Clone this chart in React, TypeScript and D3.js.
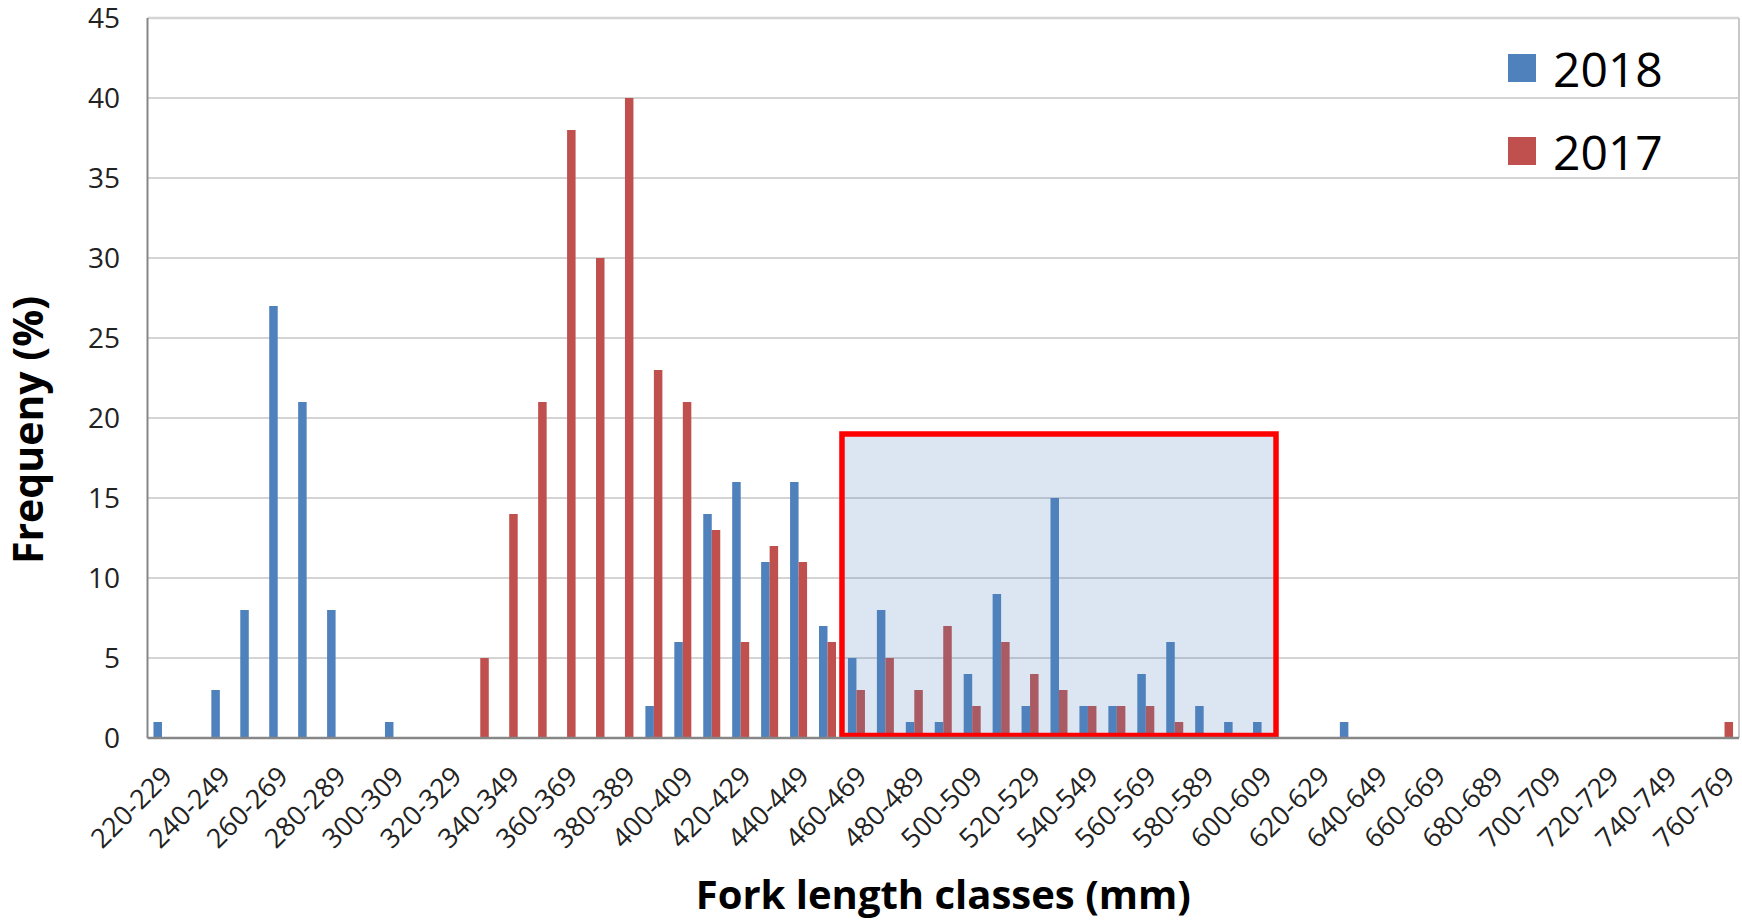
import React from 'react';
import * as d3 from 'd3';

const categories = [
  '220-229', '230-239', '240-249', '250-259', '260-269', '270-279', '280-289', '290-299',
  '300-309', '310-319', '320-329', '330-339', '340-349', '350-359', '360-369', '370-379',
  '380-389', '390-399', '400-409', '410-419', '420-429', '430-439', '440-449', '450-459',
  '460-469', '470-479', '480-489', '490-499', '500-509', '510-519', '520-529', '530-539',
  '540-549', '550-559', '560-569', '570-579', '580-589', '590-599', '600-609', '610-619',
  '620-629', '630-639', '640-649', '650-659', '660-669', '670-679', '680-689', '690-699',
  '700-709', '710-719', '720-729', '730-739', '740-749', '750-759', '760-769',
];

const values2018 = [
  1, 0, 3, 8, 27, 21, 8, 0, 1, 0, 0, 0, 0, 0, 0, 0,
  0, 2, 6, 14, 16, 11, 16, 7, 5, 8, 1, 1, 4, 9, 2, 15,
  2, 2, 4, 6, 2, 1, 1, 0, 0, 1, 0, 0, 0, 0, 0, 0,
  0, 0, 0, 0, 0, 0, 0,
];

const values2017 = [
  0, 0, 0, 0, 0, 0, 0, 0, 0, 0, 0, 5, 14, 21, 38, 30,
  40, 23, 21, 13, 6, 12, 11, 6, 3, 5, 3, 7, 2, 6, 4, 3,
  2, 2, 2, 1, 0, 0, 0, 0, 0, 0, 0, 0, 0, 0, 0, 0,
  0, 0, 0, 0, 0, 0, 1,
];

const yTicks = [0, 5, 10, 15, 20, 25, 30, 35, 40, 45];
const xTickLabels = categories.filter((_, i) => i % 2 === 0);

const seriesNames = ['2018', '2017'];
const seriesColors = ['#4F81BD', '#C0504D'];

const highlightFrom = '460-469';
const highlightTo = '600-609';
const highlightTop = 19;

const FONT = "'Open Sans', 'Noto Sans', sans-serif";

export default function App() {
  const W = 1742;
  const H = 920;
  const left = 147.5;
  const right = 1739;
  const top = 18;
  const bottom = 738;

  const x = d3.scaleBand<string>().domain(categories).range([left, right]).padding(0);
  const y = d3.scaleLinear().domain([0, 45]).range([bottom, top]);
  const bw = 8.5;
  const series = [values2018, values2017];

  const hx0 = x(highlightFrom)!;
  const hx1 = x(highlightTo)! + x.bandwidth();
  const hy0 = y(highlightTop);
  const hy1 = y(0) - 2.5;

  return (
    <svg
      width={W}
      height={H}
      style={{ position: 'absolute', left: 0, top: 0, background: '#fff' }}
      fontFamily={FONT}
    >
      <rect x={0} y={0} width={W} height={H} fill="#fff" />
      {/* gridlines */}
      {yTicks.map((t) => (
        <line
          key={'g' + t}
          x1={left}
          x2={right}
          y1={y(t)}
          y2={y(t)}
          stroke="#D4D4D4"
          strokeWidth={t === 45 ? 2.5 : 2}
        />
      ))}
      {/* right border */}
      <line x1={right} x2={right} y1={top} y2={bottom} stroke="#C8C8C8" strokeWidth={2} />
      {/* bars */}
      {series.map((vals, si) =>
        vals.map((v, i) =>
          v > 0 ? (
            <rect
              key={`b${si}-${i}`}
              x={x(categories[i])! + x.bandwidth() / 2 - bw + si * bw}
              y={y(v)}
              width={bw}
              height={y(0) - y(v)}
              fill={seriesColors[si]}
            />
          ) : null
        )
      )}
      {/* highlight box */}
      <rect
        x={hx0}
        y={hy0}
        width={hx1 - hx0}
        height={hy1 - hy0}
        fill="#4F81BD"
        fillOpacity={0.2}
        stroke="#FF0000"
        strokeWidth={5.5}
      />
      {/* axes */}
      <line x1={left} x2={left} y1={top} y2={bottom} stroke="#868686" strokeWidth={2} />
      <line x1={left} x2={right} y1={bottom} y2={bottom} stroke="#868686" strokeWidth={2.5} />
      {/* y tick labels */}
      {yTicks.map((t) => (
        <text
          key={'yt' + t}
          x={120}
          y={y(t)}
          dy="0.36em"
          textAnchor="end"
          fontSize={28}
          fill="#222"
        >
          {t}
        </text>
      ))}
      {/* x tick labels */}
      {xTickLabels.map((c) => {
        const cx = x(c)! + x.bandwidth() / 2 + 12;
        const cy = 778;
        return (
          <text
            key={'xt' + c}
            transform={`translate(${cx},${cy}) rotate(-45)`}
            textAnchor="end"
            fontSize={27}
            fill="#222"
          >
            {c}
          </text>
        );
      })}
      {/* axis titles */}
      <text
        x={(left + right) / 2}
        y={909}
        textAnchor="middle"
        fontSize={40}
        fontWeight="bold"
        fill="#000"
      >
        Fork length classes (mm)
      </text>
      <text
        transform={`translate(43,430) rotate(-90)`}
        textAnchor="middle"
        fontSize={41}
        fontWeight="bold"
        fill="#000"
      >
        Frequeny (%)
      </text>
      {/* legend */}
      {seriesNames.map((n, i) => (
        <g key={'lg' + n} transform={`translate(1508,${54 + i * 83})`}>
          <rect x={0} y={0} width={28} height={28} fill={seriesColors[i]} />
          <text x={45} y={33} fontSize={48} fill="#000">
            {n}
          </text>
        </g>
      ))}
    </svg>
  );
}
